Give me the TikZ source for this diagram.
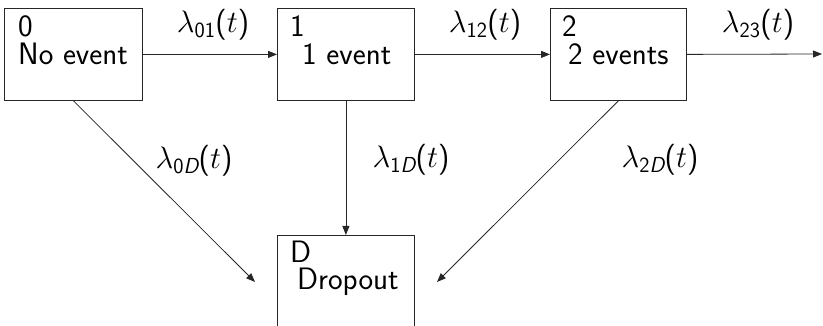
\RequirePackage{fix-cm}
\documentclass[tikz,border=0pt]{standalone}
\usepackage{amsmath}
\usetikzlibrary{arrows.meta}
\newcommand{\rate}[1]{$\lambda_{\textsf{#1}}\textsf{(}t\textsf{)}$}
\begin{document}
\begin{tikzpicture}[x=1pt,y=-1pt,
  state/.style={draw=black!85,line width=0.8pt,minimum width=137pt,minimum height=92pt,anchor=north west,inner sep=0pt},
  txt/.style={anchor=base west,inner sep=0pt,font=\fontsize{31}{34}\selectfont\sffamily},
  lab/.style={inner sep=0pt,font=\fontsize{31}{34}\selectfont},
  conn/.style={draw=black!85,line width=0.8pt,-{Triangle[length=9pt,width=7pt]}}]
\useasboundingbox (0,0) rectangle (823,326);
\clip (0,0) rectangle (823,326);
\node[state,minimum width=138pt] (b0) at (4,8) {};
\node[state] (b1) at (277,8) {};
\node[state,minimum width=136pt] (b2) at (550,8) {};
\node[state] (bD) at (277,235) {};
\node[txt] (n0) at (18,37) {0};
\node[txt] (t0) at (18,65) {No event};
\node[txt] (n1) at (290,37) {1};
\node[txt] (t1) at (302,65) {1 event};
\node[txt] (n2) at (562,37) {2};
\node[txt] (t2) at (568,65) {2 events};
\node[txt] (nD) at (290,262) {D};
\node[txt] (tD) at (297,289) {Dropout};
\coordinate (e3) at (822,54);
\coordinate (e0D) at (255,282);
\coordinate (e2D) at (437,282);
\draw[conn] (b0.east) -- (b1.west);
\draw[conn] (b1.east) -- (b2.west);
\draw[conn] (b2.east) -- (e3);
\draw[conn] (b0.south) -- (e0D);
\draw[conn] (b1.south) -- (bD.north);
\draw[conn] (b2.south) -- (e2D);
\node[lab] (l01) at (213,25) {\rate{01}};
\node[lab] (l12) at (485,25) {\rate{12}};
\node[lab] (l23) at (758,25) {\rate{23}};
\node[lab] (l0D) at (194,161) {\rate{0\slshape D}};
\node[lab] (l1D) at (411,160) {\rate{1\slshape D}};
\node[lab] (l2D) at (660,160) {\rate{2\slshape D}};
\end{tikzpicture}
\end{document}
